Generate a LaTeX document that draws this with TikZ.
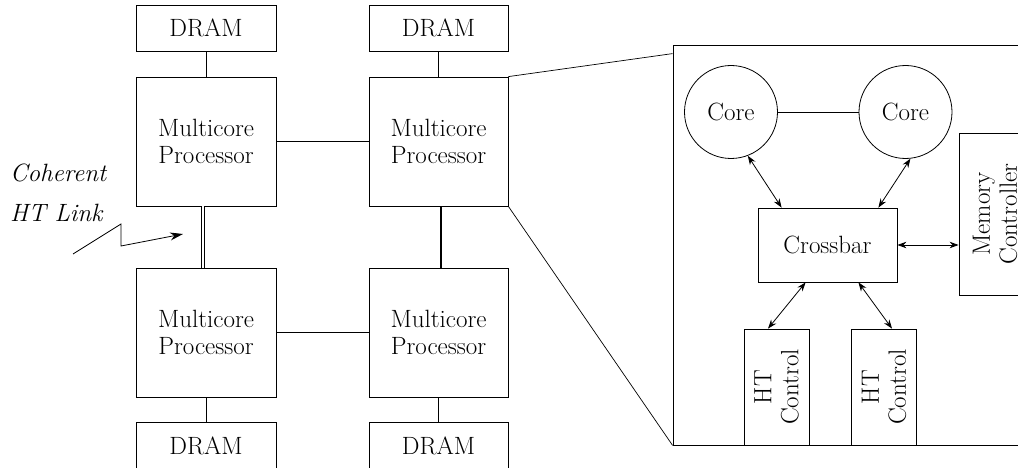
\documentclass[tikz,border=0pt]{standalone}
\usepackage{fontspec}
\usetikzlibrary{arrows.meta,calc}
\begin{document}
\begin{tikzpicture}[x=1pt,y=-1pt,
  every node/.style={font=\fontsize{25}{27}\selectfont},
  box/.style={draw,line width=0.8pt,inner sep=0pt,align=center},
  rbox/.style={box,rotate=90},
  core/.style={draw,line width=0.8pt,circle,minimum size=93pt,inner sep=0pt},
  wire/.style={line width=0.8pt},
  biarrow/.style={line width=0.8pt,{Stealth[length=9pt,width=6.5pt]}-{Stealth[length=9pt,width=6.5pt]}},
  lbl/.style={font=\fontsize{25}{27}\selectfont\itshape,inner sep=0pt,anchor=base west}
]
\useasboundingbox (0,0) rectangle (1018,468);
% processors
\node[box,minimum width=140pt,minimum height=129pt] (p1) at (206,141.5) {Multicore\\Processor};
\node[box,minimum width=139pt,minimum height=129pt] (p2) at (438.5,141.5) {Multicore\\Processor};
\node[box,minimum width=140pt,minimum height=129pt] (p3) at (206,332.5) {Multicore\\Processor};
\node[box,minimum width=139pt,minimum height=129pt] (p4) at (438.5,332.5) {Multicore\\Processor};
% DRAMs
\node[box,minimum width=140pt,minimum height=46pt] (d1) at (206,28) {DRAM};
\node[box,minimum width=139pt,minimum height=46pt] (d2) at (438.5,28) {DRAM};
\node[box,minimum width=140pt,minimum height=48pt] (d3) at (206,446) {DRAM};
\node[box,minimum width=139pt,minimum height=48pt] (d4) at (438.5,446) {DRAM};
\draw[wire] (d1) -- (p1);
\draw[wire] (d2) -- (p2);
\draw[wire] (p3) -- (d3);
\draw[wire] (p4) -- (d4);
\draw[wire] (p1) -- (p2);
\draw[wire] (p3) -- (p4);
\draw[line width=0.8pt,double,double distance=2.2pt] ([xshift=-3pt]p1.south) -- ([xshift=-3pt]p3.north);
\draw[line width=1.8pt] ([xshift=2.5pt]p2.south) -- ([xshift=2.5pt]p4.north);
% coherent HT link label
\node[lbl] (coh) at (10,182) {Coherent};
\node[lbl] (htl) at (10,222) {HT Link};
\coordinate (z0) at (73,254);
\coordinate (z1) at (121,224);
\coordinate (z2) at (121,246);
\coordinate (z3) at (183,234);
\draw[line width=0.8pt,-{Stealth[length=13pt,width=8pt]}] (z0) -- (z1) -- (z2) -- (z3);
% zoom box
\node[box,minimum width=357pt,minimum height=400pt] (zoom) at (851.5,245) {};
\draw[line width=0.7pt] (p2.north east) -- ([yshift=-9pt]zoom.north west);
\draw[line width=0.7pt] (p2.south east) -- (zoom.south west);
% inside
\node[core] (c1) at (731,112) {Core};
\node[core] (c2) at (905.5,112) {Core};
\draw[wire] (c1) -- (c2);
\node[box,minimum width=139pt,minimum height=74pt] (cb) at (827.5,245) {Crossbar};
\node[rbox,minimum width=162pt,minimum height=72pt] (mc) at (995,214) {Memory\\Controller};
\node[rbox,minimum width=116pt,minimum height=65pt] (ht1) at (776.5,387) {HT\\Control};
\node[rbox,minimum width=116pt,minimum height=65pt] (ht2) at (884,387) {HT\\Control};
\draw[biarrow] (c1.-69) -- ([xshift=24pt]cb.north west);
\draw[biarrow] (c2.-84) -- ([xshift=-19pt]cb.north east);
\draw[biarrow] (cb.east) -- (cb.east -| mc.north);
\draw[biarrow] ([xshift=48pt]cb.south west) -- ([xshift=-8.5pt]ht1.east);
\draw[biarrow] ([xshift=-39pt]cb.south east) -- ([xshift=8pt]ht2.east);
\end{tikzpicture}
\end{document}
